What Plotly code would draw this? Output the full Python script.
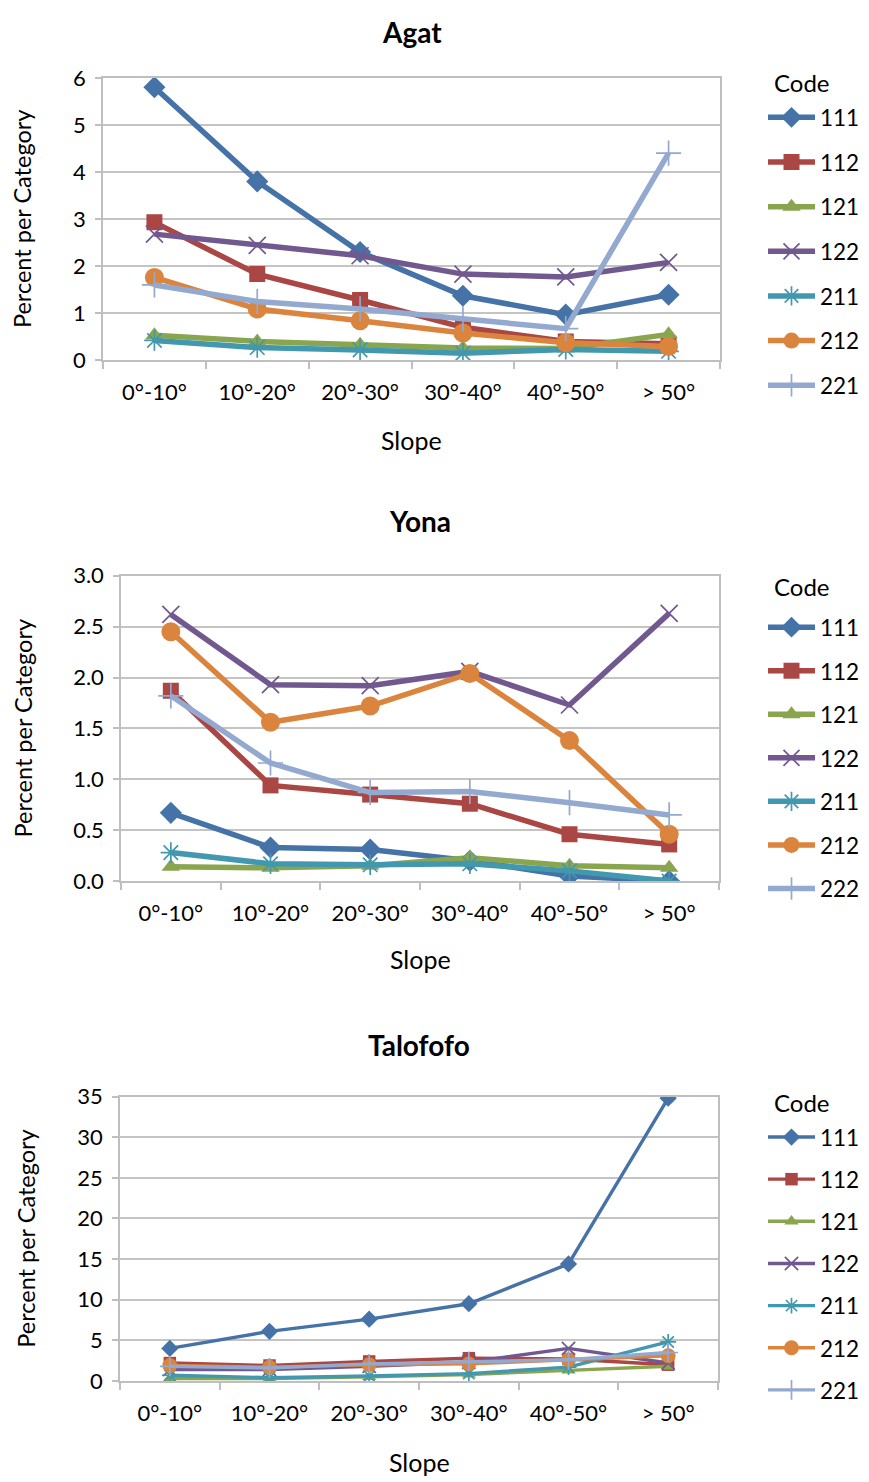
import plotly.graph_objects as go

categories = ["0°-10°", "10°-20°", "20°-30°", "30°-40°", "40°-50°", "> 50°"]

agat_codes = ["111", "112", "121", "122", "211", "212", "221"]
agat_111 = [5.8, 3.8, 2.3, 1.37, 0.97, 1.39]
agat_112 = [2.93, 1.83, 1.28, 0.7, 0.4, 0.35]
agat_121 = [0.53, 0.4, 0.33, 0.26, 0.25, 0.55]
agat_122 = [2.68, 2.44, 2.22, 1.83, 1.77, 2.08]
agat_211 = [0.42, 0.27, 0.22, 0.15, 0.23, 0.19]
agat_212 = [1.76, 1.09, 0.84, 0.58, 0.37, 0.29]
agat_221 = [1.6, 1.25, 1.09, 0.88, 0.67, 4.4]

yona_codes = ["111", "112", "121", "122", "211", "212", "222"]
yona_111 = [0.67, 0.33, 0.31, 0.2, 0.05, 0.0]
yona_112 = [1.87, 0.94, 0.85, 0.76, 0.46, 0.36]
yona_121 = [0.14, 0.13, 0.15, 0.23, 0.15, 0.13]
yona_122 = [2.62, 1.93, 1.92, 2.06, 1.73, 2.63]
yona_211 = [0.28, 0.17, 0.16, 0.17, 0.1, 0.0]
yona_212 = [2.45, 1.56, 1.72, 2.04, 1.38, 0.46]
yona_222 = [1.82, 1.16, 0.87, 0.88, 0.77, 0.65]

talofofo_codes = ["111", "112", "121", "122", "211", "212", "221"]
talofofo_111 = [4.0, 6.1, 7.6, 9.5, 14.4, 34.8]
talofofo_112 = [2.2, 1.9, 2.4, 2.8, 2.7, 2.0]
talofofo_121 = [0.3, 0.3, 0.5, 0.8, 1.3, 1.8]
talofofo_122 = [1.4, 1.4, 1.8, 2.3, 4.0, 2.2]
talofofo_211 = [0.7, 0.4, 0.6, 0.9, 1.7, 4.8]
talofofo_212 = [1.9, 1.7, 2.0, 2.1, 2.6, 3.1]
talofofo_221 = [1.8, 1.6, 2.1, 2.4, 2.6, 3.5]

colors = ["#4572A7", "#AA4643", "#89A54E", "#71588F", "#4198AF", "#DB843D", "#93A9CF"]
symbols = ["diamond", "square", "triangle-up", "x-thin-open", "asterisk-open", "circle", "cross-thin-open"]

W, H = 869, 1482
FONT = "Lato"

# screen position (as seen in the picture) -> figure pixel
def fx(s):
    return s - 8


def fy(s):
    return (s - 21) / 0.984


def px(s):
    return fx(s) / W


def py_fig(f):
    return 1 - f / H


def py(s):
    return py_fig(fy(s))


panels = [
    dict(title="Agat", codes=agat_codes,
         series=[agat_111, agat_112, agat_121, agat_122, agat_211, agat_212, agat_221],
         x0=103, x1=720, ytop=77, ybot=360, yrange=[0, 6], dtick=1, fmt="d",
         title_f=10.5, xtitle_y=440, ytitle_x=22, code_y=82, item_y=118, gap=12.4,
         lw=5.5, ms=1.0),
    dict(title="Yona", codes=yona_codes,
         series=[yona_111, yona_112, yona_121, yona_122, yona_211, yona_212, yona_222],
         x0=121, x1=719, ytop=576, ybot=882, yrange=[0, 3], dtick=0.5, fmt=".1f",
         title_f=fy(521), xtitle_y=960, ytitle_x=23, code_y=587, item_y=629, gap=11.3,
         lw=5.5, ms=1.0),
    dict(title="Talofofo", codes=talofofo_codes,
         series=[talofofo_111, talofofo_112, talofofo_121, talofofo_122, talofofo_211, talofofo_212, talofofo_221],
         x0=120, x1=718, ytop=1098, ybot=1383, yrange=[0, 35], dtick=5, fmt="d",
         title_f=fy(1046), xtitle_y=1464, ytitle_x=26, code_y=1104, item_y=1140, gap=9.9,
         lw=3.4, ms=0.78),
]

sizes = {"diamond": 17, "square": 16, "triangle-up": 16, "x-thin-open": 17,
         "asterisk-open": 17, "circle": 19, "cross-thin-open": 18}

fig = go.Figure()
annotations = []
for i, p in enumerate(panels):
    n = "" if i == 0 else str(i + 1)
    xa, ya = "x" + n, "y" + n
    lg = "legend" + n
    for j, (code, vals) in enumerate(zip(p["codes"], p["series"])):
        sym = symbols[j]
        open_sym = sym.endswith("open")
        fig.add_trace(go.Scatter(
            x=categories, y=vals, name=code, mode="lines+markers",
            xaxis=xa, yaxis=ya, legend=lg, legendgroup=f"{i}-{code}",
            line=dict(color=colors[j], width=p["lw"]),
            marker=dict(symbol=sym, size=sizes[sym] * p["ms"], color=colors[j],
                        line=dict(color=colors[j], width=1.7 if open_sym else 0)),
        ))
    dom_x = [px(p["x0"]), px(p["x1"])]
    dom_y = [py(p["ybot"]), py(p["ytop"])]
    fig.update_layout(**{
        "xaxis" + n: dict(domain=dom_x, anchor=ya, type="category", range=[-0.5, 5.5],
                          showgrid=False, showline=True, linecolor="#BFBFBF", linewidth=1.5,
                          mirror=True, ticks="outside", tickson="boundaries", ticklen=7,
                          tickcolor="#BFBFBF", tickwidth=1.5,
                          tickfont=dict(family=FONT, size=22, color="#000000"),
                          ticklabelstandoff=12, fixedrange=True),
        "yaxis" + n: dict(domain=dom_y, anchor=xa, range=p["yrange"], dtick=p["dtick"],
                          tick0=0, tickformat=p["fmt"], showgrid=True, gridcolor="#C4C4C4",
                          gridwidth=1.5, showline=True, linecolor="#BFBFBF", linewidth=1.5,
                          mirror=True, ticks="outside", ticklen=6, tickcolor="#BFBFBF",
                          tickwidth=1.5, zeroline=False,
                          tickfont=dict(family=FONT, size=22, color="#000000"),
                          ticklabelstandoff=5, fixedrange=True),
        lg: dict(x=px(763), y=py_fig(fy(p["item_y"]) - 23), xanchor="left", yanchor="top",
                 font=dict(family=FONT, size=22.5, color="#000000"),
                 tracegroupgap=p["gap"], bgcolor="rgba(0,0,0,0)", itemwidth=47),
    })
    annotations.append(dict(text="Code", x=px(772), y=py(p["code_y"]), xref="paper",
                            yref="paper", xanchor="left", yanchor="middle", showarrow=False,
                            font=dict(family=FONT, size=24, color="#000000")))
    annotations.append(dict(text="<b>" + p["title"] + "</b>", x=px((p["x0"] + p["x1"]) / 2),
                            y=py_fig(p["title_f"]), xref="paper", yref="paper",
                            xanchor="center", yanchor="middle", showarrow=False,
                            font=dict(family=FONT, size=28, color="#000000")))
    annotations.append(dict(text="Slope", x=px((p["x0"] + p["x1"]) / 2),
                            y=py(p["xtitle_y"]), xref="paper", yref="paper",
                            xanchor="center", yanchor="middle", showarrow=False,
                            font=dict(family=FONT, size=25, color="#000000")))
    annotations.append(dict(text="Percent per Category", x=px(p["ytitle_x"]),
                            y=py((p["ytop"] + p["ybot"]) / 2), xref="paper", yref="paper",
                            xanchor="center", yanchor="middle", showarrow=False, textangle=-90,
                            font=dict(family=FONT, size=23.5, color="#000000")))

fig.update_layout(width=W, height=H, margin=dict(l=0, r=0, t=0, b=0),
                  paper_bgcolor="white", plot_bgcolor="white",
                  annotations=annotations, showlegend=True)

fig.write_html("out.html")
